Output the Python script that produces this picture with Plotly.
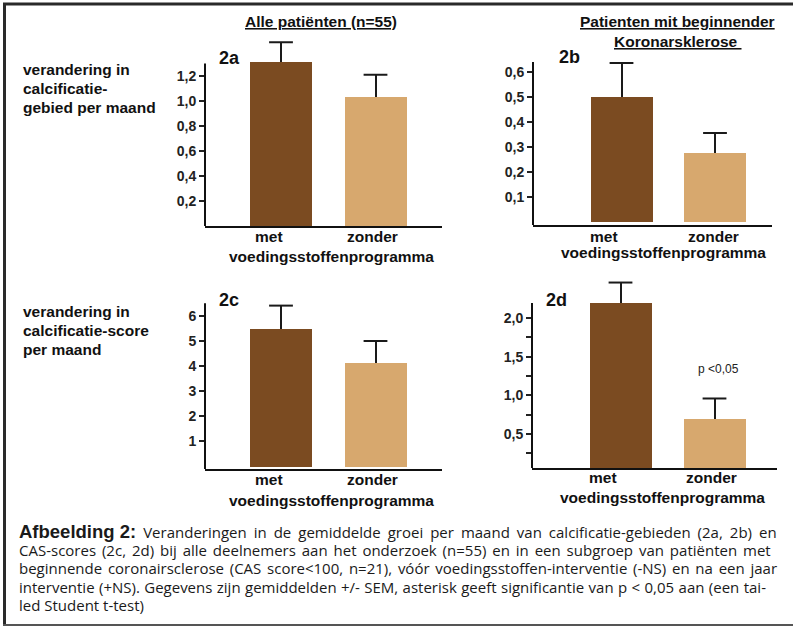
import plotly.graph_objects as go

W, H = 793, 628

# ---------------- data ----------------
categories = ["met", "zonder"]
group_label = "voedingsstoffenprogramma"

vals_2a = [1.31, 1.03]
err_2a = [0.16, 0.18]
vals_2b = [0.50, 0.276]
err_2b = [0.136, 0.08]
vals_2c = [5.48, 4.14]
err_2c = [0.93, 0.86]
vals_2d = [2.19, 0.695]
err_2d = [0.27, 0.265]

ticks_2a = [0.2, 0.4, 0.6, 0.8, 1.0, 1.2]
ticklabels_2a = ["0,2", "0,4", "0,6", "0,8", "1,0", "1,2"]
ticks_2b = [0.1, 0.2, 0.3, 0.4, 0.5, 0.6]
ticklabels_2b = ["0,1", "0,2", "0,3", "0,4", "0,5", "0,6"]
ticks_2c = [1, 2, 3, 4, 5, 6]
ticklabels_2c = ["1", "2", "3", "4", "5", "6"]
ticks_2d = [0.25, 0.5, 0.75, 1.0, 1.25, 1.5, 1.75, 2.0]
ticklabels_2d = ["", "0,5", "", "1,0", "", "1,5", "", "2,0"]

panel_names = ["2a", "2b", "2c", "2d"]
col_titles = ["Alle patiënten (n=55)", "Patienten mit beginnender", "Koronarsklerose\u00a0"]
row_labels_top = ["verandering in", "calcificatie-", "gebied per maand"]
row_labels_bottom = ["verandering in", "calcificatie-score", "per maand"]
p_note = "p &lt;0,05"

caption_head = "Afbeelding 2:"
caption_lines = [
    " Veranderingen in de gemiddelde groei per maand van calcificatie-gebieden (2a, 2b) en",
    "CAS-scores (2c, 2d) bij alle deelnemers aan het onderzoek (n=55) en in een subgroep van patiënten met",
    "beginnende coronairsclerose (CAS score&lt;100, n=21), vóór voedingsstoffen-interventie (-NS) en na een jaar",
    "interventie (+NS). Gegevens zijn gemiddelden +/- SEM, asterisk geeft significantie van p &lt; 0,05 aan (een tai-",
    "led Student t-test)",
]

colors = ["#7b4b21", "#d7a86e"]

# ---------------- layout geometry (pixels) ----------------
panels = [
    dict(v=vals_2a, e=err_2a, t=ticks_2a, tl=ticklabels_2a, L=205, R=442, c0=281, c1=375.5,
         pb=226, p0=226, k=125, pt=35, ltop=1.30, ylab=(237, 256), lx=(-12, -3), gx=331),
    dict(v=vals_2b, e=err_2b, t=ticks_2b, tl=ticklabels_2b, L=533, R=772, c0=621.5, c1=715,
         pb=225, p0=222, k=250, pt=35, ltop=0.64, ylab=(236, 253), lx=(-18, -2), gx=663),
    dict(v=vals_2c, e=err_2c, t=ticks_2c, tl=ticklabels_2c, L=205, R=442, c0=281, c1=375.5,
         pb=469, p0=466.5, k=25.1, pt=285, ltop=6.5, ylab=(479, 500), lx=(-12, -3), gx=331),
    dict(v=vals_2d, e=err_2d, t=ticks_2d, tl=ticklabels_2d, L=532, R=777, c0=620.5, c1=714.5,
         pb=468, p0=472.7, k=77.3, pt=275, ltop=2.195, ylab=(477, 497), lx=(-18, -3), gx=662),
]
name_pos = [(229, 58), (569, 57), (229, 300), (556, 300)]
caption_word_spacing = [3.1, 2.0, 1.85, 0.5, 0]

def px(x):
    return x / W

def py(y):
    return 1 - y / H

fig = go.Figure()
annotations = []
shapes = []
FONT = "Liberation Sans, Arial, Helvetica, sans-serif"
CAP_FONT = "Open Sans, Liberation Sans, sans-serif"

for i, p in enumerate(panels):
    n = "" if i == 0 else str(i + 1)
    xa, ya = "x" + n, "y" + n
    sp = p["c1"] - p["c0"]
    xr = [(p["L"] - p["c0"]) / sp, (p["R"] - p["c0"]) / sp]
    yr = [(p["p0"] - p["pb"]) / p["k"], (p["p0"] - p["pt"]) / p["k"]]
    fig.add_trace(go.Bar(
        x=[0, 1], y=p["v"], width=62 / sp,
        marker=dict(color=colors, line=dict(width=0)),
        error_y=dict(type="data", array=p["e"], arrayminus=[0, 0], symmetric=False,
                     color="#1a1a1a", thickness=2, width=0),
        xaxis=xa, yaxis=ya, showlegend=False, hoverinfo="skip",
    ))
    fig.add_trace(go.Scatter(
        x=[0, 1], y=[v + e for v, e in zip(p["v"], p["e"])], mode="markers",
        marker=dict(symbol="line-ew", size=17, line=dict(color="#1a1a1a", width=2)),
        xaxis=xa, yaxis=ya, showlegend=False, hoverinfo="skip", cliponaxis=False,
    ))
    fig.layout["xaxis" + n] = dict(
        domain=[px(p["L"]), px(p["R"])], range=xr, anchor=ya,
        showline=True, linecolor="#111", linewidth=2, showticklabels=False,
        ticks="", showgrid=False, zeroline=False, fixedrange=True,
    )
    fig.layout["yaxis" + n] = dict(
        domain=[py(p["pb"]), py(p["pt"])], range=yr, anchor=xa,
        showline=False, showgrid=False, zeroline=False,
        tickmode="array", tickvals=p["t"], ticktext=p["tl"],
        ticks="outside", ticklen=5, tickwidth=1.5, tickcolor="#222",
        tickfont=dict(family=FONT, size=14, color="#222", weight="bold"),
        fixedrange=True,
    )
    shapes.append(dict(type="line", xref=xa + " domain", yref=ya,
                       x0=0, x1=0, y0=yr[0], y1=p["ltop"],
                       line=dict(color="#111", width=2)))
    for j, c in enumerate(categories):
        annotations.append(dict(text="<b>%s</b>" % c, xref=xa, yref="paper", x=j,
                                y=py(p["ylab"][0]), xshift=p["lx"][j], showarrow=False,
                                xanchor="center", yanchor="middle",
                                font=dict(family=FONT, size=15.5, color="#111")))
    annotations.append(dict(text="<b>%s</b>" % group_label, xref="paper", yref="paper",
                            x=px(p["gx"]), y=py(p["ylab"][1]), showarrow=False,
                            xanchor="center", yanchor="middle",
                            font=dict(family=FONT, size=15.5, color="#111")))
    annotations.append(dict(text="<b>%s</b>" % panel_names[i], xref="paper", yref="paper",
                            x=px(name_pos[i][0]), y=py(name_pos[i][1]), showarrow=False,
                            xanchor="center", yanchor="middle",
                            font=dict(family=FONT, size=18, color="#111")))

annotations.append(dict(text=p_note, xref="x4", yref="paper", x=1, xshift=4,
                        y=py(369), showarrow=False, xanchor="center", yanchor="middle",
                        font=dict(family=FONT, size=12, color="#222")))

for txt, x, y in [(col_titles[0], 321, 22), (col_titles[1], 677, 22), (col_titles[2], 678, 42)]:
    annotations.append(dict(text="<b><u>%s</u></b>" % txt, xref="paper", yref="paper",
                            x=px(x), y=py(y), showarrow=False, xanchor="center", yanchor="middle",
                            font=dict(family=FONT, size=15.5, color="#111")))

for lines, ys in [(row_labels_top, [70, 88.5, 107]), (row_labels_bottom, [311, 330, 349])]:
    for t, y in zip(lines, ys):
        annotations.append(dict(text="<b>%s</b>" % t, xref="paper", yref="paper",
                                x=px(21), y=py(y), showarrow=False, xanchor="left", yanchor="middle",
                                font=dict(family=FONT, size=15.5, color="#111")))

# caption: one text block, base size 14 gives the 18.2 px line pitch
parts = []
for k, t in enumerate(caption_lines):
    seg = "<span style=\"font-size:15px;word-spacing:%gpx\">%s</span>" % (caption_word_spacing[k], t)
    if k == 0:
        seg = ("<span style=\"font-family:Liberation Sans;font-size:18.5px\"><b>%s</b></span>" % caption_head) + seg
    parts.append(seg)
annotations.append(dict(text="<br>".join(parts), xref="paper", yref="paper", x=px(17), y=py(568),
                        showarrow=False, xanchor="left", yanchor="middle", align="left",
                        font=dict(family=CAP_FONT, size=14, color="#1a1a1a")))

shapes += [
    dict(type="line", xref="paper", yref="paper", x0=px(4.5), x1=px(4.5), y0=py(3), y1=py(626),
         line=dict(color="#2a2a2a", width=3)),
    dict(type="line", xref="paper", yref="paper", x0=px(3), x1=1, y0=py(4), y1=py(4),
         line=dict(color="#2a2a2a", width=3)),
    dict(type="line", xref="paper", yref="paper", x0=px(3), x1=1, y0=py(625), y1=py(625),
         line=dict(color="#555", width=2)),
]

fig.update_layout(
    width=W, height=H, margin=dict(l=0, r=0, t=0, b=0),
    paper_bgcolor="white", plot_bgcolor="rgba(0,0,0,0)",
    annotations=annotations, shapes=shapes, bargap=0,
)

fig.write_html("out.html", config={"displayModeBar": False},
               post_script="document.body.style.margin='0';document.body.style.overflow='hidden';")
